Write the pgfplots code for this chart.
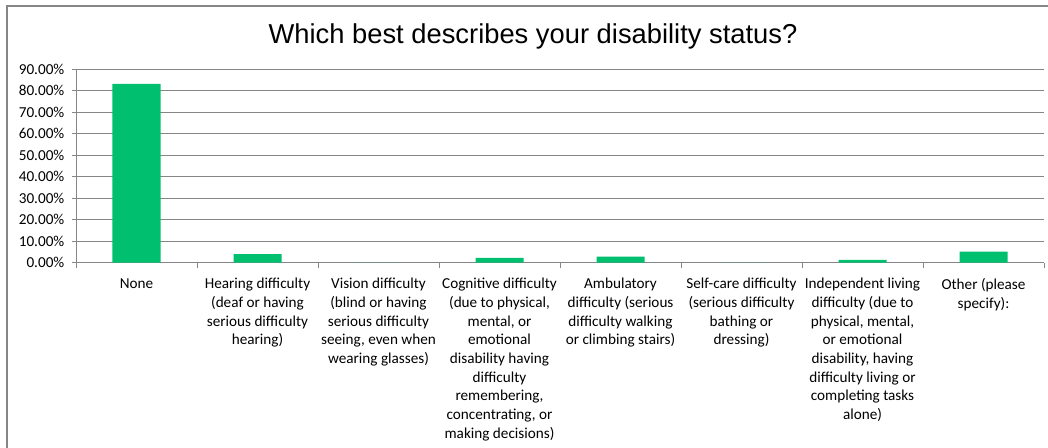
\documentclass[border=0pt]{standalone}
\usepackage{pgfplots}
\pgfplotsset{compat=1.18}
\usepackage{fontspec}
\setmainfont{Carlito}
\newfontfamily\titlefont{Liberation Sans}
\definecolor{bargreen}{RGB}{0,191,111}
\definecolor{gridgray}{RGB}{134,134,134}
\begin{document}
\begin{tikzpicture}
\useasboundingbox (0,0) rectangle (786pt,335.25pt);
\draw[gridgray, line width=1.5pt] (4.875pt,-2pt) -- (4.875pt,330.375pt) -- (790pt,330.375pt);
\node[anchor=base, inner sep=0pt, font=\titlefont\fontsize{20.5}{24}\selectfont] at (399.75pt,302.8pt) {Which best describes your disability status?};
\begin{axis}[
  at={(57pt,138.2pt)}, anchor=south west,
  scale only axis, width=726pt, height=145.3pt,
  xmin=-0.5, xmax=7.5, ymin=0, ymax=90,
  axis x line*=bottom, axis y line*=left,
  axis line style={gridgray, line width=0.75pt},
  ytick={0,10,20,30,40,50,60,70,80,90},
  yticklabels={0.00\%,10.00\%,20.00\%,30.00\%,40.00\%,50.00\%,60.00\%,70.00\%,80.00\%,90.00\%},
  xtick={0,1,2,3,4,5,6,7},
  xticklabels={None,
    {Hearing difficulty\\(deaf or having\\serious difficulty\\hearing)},
    {Vision difficulty\\(blind or having\\serious difficulty\\seeing, even when\\wearing glasses)},
    {Cognitive difficulty\\(due to physical,\\mental, or\\emotional\\disability having\\difficulty\\remembering,\\concentrating, or\\making decisions)},
    {Ambulatory\\difficulty (serious\\difficulty walking\\or climbing stairs)},
    {Self-care difficulty\\(serious difficulty\\bathing or\\dressing)},
    {Independent living\\difficulty (due to\\physical, mental,\\or emotional\\disability, having\\difficulty living or\\completing tasks\\alone)},
    {Other (please\\specify):}},
  minor xtick={-0.5,0.5,1.5,2.5,3.5,4.5,5.5,6.5,7.5},
  tick align=outside,
  major x tick style={draw=none},
  major y tick style={gridgray, line width=0.75pt},
  minor x tick style={gridgray, line width=0.75pt},
  major tick length=3pt,
  minor tick length=4pt,
  ymajorgrids,
  major grid style={gridgray, line width=0.75pt},
  xticklabel style={align=center, anchor=north, font=\fontsize{11.4}{14}\selectfont, yshift=-5.2pt},
  yticklabel style={anchor=east, font=\fontsize{11.4}{14}\selectfont, xshift=-2.2pt},
  ybar, bar width=36pt,
]
\addplot[fill=bargreen, draw=none, bar shift=0pt] coordinates {
  (0,83.1) (1,4.0) (2,0) (3,2.3) (4,2.8) (5,0) (6,1.3) (7,5.2)
};
\end{axis}
\end{tikzpicture}
\end{document}
